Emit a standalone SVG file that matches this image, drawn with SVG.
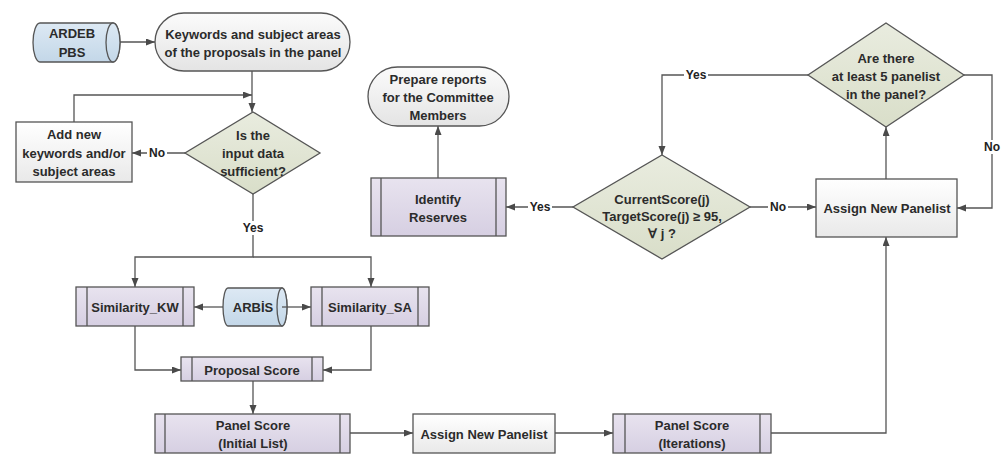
<svg xmlns="http://www.w3.org/2000/svg" width="1008" height="456" viewBox="0 0 1008 456">
<defs>
<linearGradient id="gTerm" x1="0" y1="0" x2="0" y2="1"><stop offset="0" stop-color="#fbfbfb"/><stop offset="1" stop-color="#e4e4e4"/></linearGradient>
<linearGradient id="gRect" x1="0" y1="0" x2="0" y2="1"><stop offset="0" stop-color="#ffffff"/><stop offset="1" stop-color="#e9e9e9"/></linearGradient>
<linearGradient id="gProc" x1="0" y1="0" x2="0" y2="1"><stop offset="0" stop-color="#e8e3ef"/><stop offset="1" stop-color="#d6cfe2"/></linearGradient>
<linearGradient id="gDia" x1="0" y1="0" x2="0" y2="1"><stop offset="0" stop-color="#e9ecdf"/><stop offset="1" stop-color="#d9dec9"/></linearGradient>
<linearGradient id="gCyl" x1="0" y1="0" x2="0" y2="1"><stop offset="0" stop-color="#dde9f4"/><stop offset="1" stop-color="#c3d7e8"/></linearGradient>
<marker id="ah" markerUnits="userSpaceOnUse" markerWidth="10" markerHeight="8" refX="9" refY="3.5" orient="auto"><path d="M0,0 L9,3.5 L0,7 Z" fill="#4a4a4a"/></marker>
<style>
.sh{stroke:#555;stroke-width:1.3}
.term{fill:url(#gTerm)}
.rect{fill:url(#gRect)}
.proc{fill:url(#gProc)}
.dia{fill:url(#gDia)}
.cyl{fill:url(#gCyl)}
.il{stroke:#555;stroke-width:1.3;fill:none}
text{font-family:"Liberation Sans",Arial,sans-serif;font-weight:bold;font-size:13px;fill:#2b2b2b;text-anchor:middle;dominant-baseline:central}
.lbl{font-size:12px;fill:#222}
.cn{fill:none;stroke:#555;stroke-width:1.3}
.bg{fill:#fff}
</style>
</defs>
<rect width="1008" height="456" fill="#fff"/>

<g id="connectors">
<path class="cn" d="M120,42 H155" marker-end="url(#ah)"/>
<path class="cn" d="M252,71 V112" marker-end="url(#ah)"/>
<path class="cn" d="M74,122 V95 H252" marker-end="url(#ah)"/>
<path class="cn" d="M185,153 H132" marker-end="url(#ah)"/>
<path class="cn" d="M253,194 V257 H135 V287" marker-end="url(#ah)"/>
<path class="cn" d="M253,257 H371 V287" marker-end="url(#ah)"/>
<path class="cn" d="M223,307 H194" marker-end="url(#ah)"/>
<path class="cn" d="M282,307 H311" marker-end="url(#ah)"/>
<path class="cn" d="M135,326 V370 H181" marker-end="url(#ah)"/>
<path class="cn" d="M371,326 V370 H323" marker-end="url(#ah)"/>
<path class="cn" d="M253,381 V414" marker-end="url(#ah)"/>
<path class="cn" d="M350,433 H413" marker-end="url(#ah)"/>
<path class="cn" d="M555,433 H613" marker-end="url(#ah)"/>
<path class="cn" d="M771,433 H886 V237" marker-end="url(#ah)"/>
<path class="cn" d="M886,179 V127" marker-end="url(#ah)"/>
<path class="cn" d="M964,75 H992 V208 H957" marker-end="url(#ah)"/>
<path class="cn" d="M808,75 H662 V155" marker-end="url(#ah)"/>
<path class="cn" d="M750,207 H816" marker-end="url(#ah)"/>
<path class="cn" d="M573,207 H506" marker-end="url(#ah)"/>
<path class="cn" d="M438,178 V126" marker-end="url(#ah)"/>
<rect class="bg" x="147" y="146" width="20" height="14"/>
<text class="lbl" x="157" y="153">No</text>
<rect class="bg" x="241" y="221" width="24" height="14"/>
<text class="lbl" x="253" y="228">Yes</text>
<rect class="bg" x="528" y="200" width="24" height="14"/>
<text class="lbl" x="540" y="207">Yes</text>
<rect class="bg" x="768" y="200" width="20" height="14"/>
<text class="lbl" x="778" y="207">No</text>
<rect class="bg" x="684" y="68" width="24" height="14"/>
<text class="lbl" x="696" y="75">Yes</text>
<rect class="bg" x="982" y="140" width="20" height="14"/>
<text class="lbl" x="992" y="147">No</text>
</g>

<g id="ardeb">
<path class="cyl sh" d="M40,23 H113 A7,19.5 0 0 1 113,62 H40 A7,19.5 0 0 1 40,23 Z"/>
<ellipse class="cyl sh" cx="113" cy="42.5" rx="7" ry="19.5"/>
<text x="72" y="33">ARDEB</text>
<text x="72" y="52">PBS</text>
</g>

<g id="keywords">
<rect class="term sh" x="155" y="13" width="195" height="58" rx="29" ry="29"/>
<text x="253" y="34">Keywords and subject areas</text>
<text x="253" y="52">of the proposals in the panel</text>
</g>

<g id="addnew">
<rect class="rect sh" x="16" y="122" width="116" height="60"/>
<text x="74" y="134">Add new</text>
<text x="74" y="153">keywords and/or</text>
<text x="74" y="171">subject areas</text>
</g>

<g id="sufficient">
<path class="dia sh" d="M253,112 L320,153 L253,194 L185,153 Z"/>
<text x="253" y="135">Is the</text>
<text x="253" y="153">input data</text>
<text x="253" y="171">sufficient?</text>
</g>

<g id="simkw">
<rect class="proc sh" x="76" y="287" width="118" height="39"/>
<path class="il" d="M87,287 V326 M183,287 V326"/>
<text x="135" y="307">Similarity_KW</text>
</g>

<g id="arbis">
<path class="cyl sh" d="M228,288 H282 A5,19 0 0 1 282,326 H228 A5,19 0 0 1 228,288 Z"/>
<ellipse class="cyl sh" cx="282" cy="307" rx="5" ry="19"/>
<path class="cn" d="M282,307 H287"/>
<text x="253" y="307">ARBİS</text>
</g>

<g id="simsa">
<rect class="proc sh" x="311" y="287" width="118" height="39"/>
<path class="il" d="M322,287 V326 M418,287 V326"/>
<text x="370" y="307">Similarity_SA</text>
</g>

<g id="proposal">
<rect class="proc sh" x="181" y="357" width="142" height="24"/>
<path class="il" d="M192,357 V381 M312,357 V381"/>
<text x="252" y="370">Proposal Score</text>
</g>

<g id="panelinit">
<rect class="proc sh" x="155" y="414" width="195" height="39"/>
<path class="il" d="M165,414 V453 M340,414 V453"/>
<text x="253" y="425">Panel Score</text>
<text x="253" y="443">(Initial List)</text>
</g>

<g id="assign1">
<rect class="rect sh" x="413" y="414" width="142" height="39"/>
<text x="484" y="434">Assign New Panelist</text>
</g>

<g id="paneliter">
<rect class="proc sh" x="613" y="414" width="158" height="39"/>
<path class="il" d="M625,414 V453 M760,414 V453"/>
<text x="692" y="425">Panel Score</text>
<text x="692" y="443">(Iterations)</text>
</g>

<g id="assign2">
<rect class="rect sh" x="816" y="179" width="141" height="58"/>
<text x="887" y="208">Assign New Panelist</text>
</g>

<g id="atleast5">
<path class="dia sh" d="M886,23 L964,75 L886,127 L808,75 Z"/>
<text x="886" y="58">Are there</text>
<text x="886" y="76">at least 5 panelist</text>
<text x="886" y="94">in the panel?</text>
</g>

<g id="target">
<path class="dia sh" d="M662,155 L750,207 L662,259 L573,207 Z"/>
<text x="662" y="199">CurrentScore(j)</text>
<text x="662" y="216">TargetScore(j) ≥ 95,</text>
<text x="662" y="233">∀ j ?</text>
</g>

<g id="identify">
<rect class="proc sh" x="371" y="178" width="135" height="58"/>
<path class="il" d="M381,178 V236 M496,178 V236"/>
<text x="438" y="199">Identify</text>
<text x="438" y="217">Reserves</text>
</g>

<g id="prepare">
<rect class="term sh" x="368" y="67" width="141" height="59" rx="29.5" ry="29.5"/>
<text x="438" y="79">Prepare reports</text>
<text x="438" y="97">for the Committee</text>
<text x="438" y="115">Members</text>
</g>
</svg>
